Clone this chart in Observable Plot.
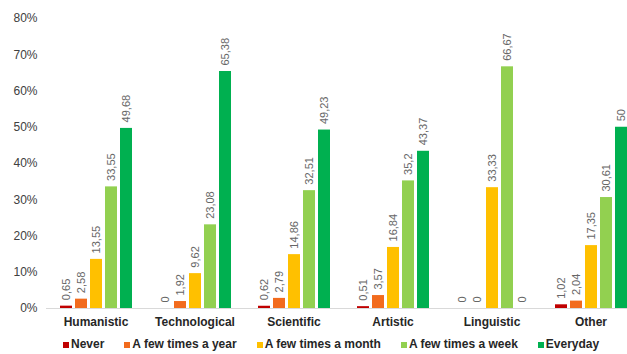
<!DOCTYPE html>
<html>
<head>
<meta charset="utf-8">
<script src="https://cdn.jsdelivr.net/npm/d3@7"></script>
<script src="https://cdn.jsdelivr.net/npm/@observablehq/plot@0.6"></script>
<style>
  html, body { margin: 0; padding: 0; background: #fff; overflow: hidden; }
  body { width: 627px; height: 354px; font-family: "Liberation Sans", Arial, sans-serif; }
  #legend { display: flex; gap: 20px; padding-left: 63px; height: 20px; line-height: 20px;
            font-size: 12px; font-weight: bold; color: #262626; white-space: nowrap; }
  #legend .sw { display: inline-block; width: 6px; height: 6px; margin-right: 2px; vertical-align: baseline; }
</style>
</head>
<body>
<div id="chart"></div>
<div id="legend"></div>
<script>
// Frequency of use by field, in percent
const categories = ["Humanistic", "Technological", "Scientific", "Artistic", "Linguistic", "Other"];
const series = ["Never", "A few times a year", "A few times a month", "A few times a week", "Everyday"];
const never      = [0.65, 0,     0.62,  0.51,  0,     1.02];
const fewYear    = [2.58, 1.92,  2.79,  3.57,  0,     2.04];
const fewMonth   = [13.55, 9.62, 14.86, 16.84, 33.33, 17.35];
const fewWeek    = [33.55, 23.08, 32.51, 35.2, 66.67, 30.61];
const everyday   = [49.68, 65.38, 49.23, 43.37, 0,    50];
const colors = ["#c00000", "#f26b1d", "#ffc000", "#92d050", "#00b050"];
const yTicks = [0, 10, 20, 30, 40, 50, 60, 70, 80];

const seriesValues = [never, fewYear, fewMonth, fewWeek, everyday];
const rows = [];
categories.forEach((c, i) => {
  series.forEach((s, j) => rows.push({category: c, series: s, value: seriesValues[j][i]}));
});
const fmt = v => String(v).replace(".", ",");

const chart = Plot.plot({
  width: 627,
  height: 334,
  marginLeft: 45,
  marginRight: -13,
  marginTop: 18,
  marginBottom: 26,
  style: {fontFamily: "'Liberation Sans', Arial, sans-serif", background: "#fff"},
  fx: {domain: categories, padding: 0, label: null},
  x: {domain: series, paddingInner: 0.22, paddingOuter: 0.85, axis: null},
  y: {domain: [0, 80], label: null},
  color: {domain: series, range: colors},
  marks: [
    Plot.ruleY([0], {stroke: "#d9d9d9", strokeWidth: 1}),
    Plot.barY(rows, {fx: "category", x: "series", y: "value", fill: "series"}),
    Plot.text(rows, {
      fx: "category", x: "series", y: "value", text: d => fmt(d.value),
      rotate: -90, textAnchor: "start", dy: -6, fill: "#666666", fontSize: 11
    }),
    Plot.axisY({ticks: yTicks, tickFormat: d => d + "%", tickSize: 0, tickPadding: 9,
                fontSize: 12, fill: "#404040", label: null}),
    Plot.axisFx({anchor: "bottom", tickSize: 0, tickPadding: 9, fontSize: 12, fontWeight: "bold",
                 fill: "#262626", label: null})
  ]
});
document.getElementById("chart").appendChild(chart);

const legend = document.getElementById("legend");
series.forEach((s, j) => {
  const item = document.createElement("span");
  const sw = document.createElement("span");
  sw.className = "sw";
  sw.style.background = colors[j];
  item.appendChild(sw);
  item.appendChild(document.createTextNode(s));
  legend.appendChild(item);
});
</script>
</body>
</html>
